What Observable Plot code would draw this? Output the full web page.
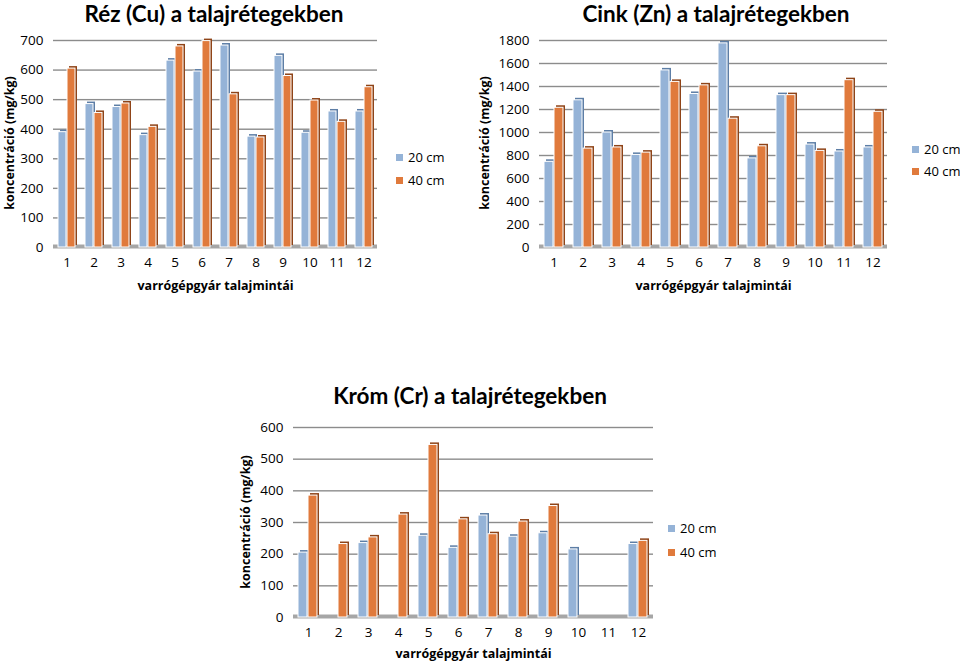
<!DOCTYPE html>
<html>
<head>
<meta charset="utf-8">
<script src="https://cdn.jsdelivr.net/npm/d3@7"></script>
<script src="https://cdn.jsdelivr.net/npm/@observablehq/plot@0.6"></script>
<style>
  html, body { margin: 0; padding: 0; background: #fff; }
  #root { position: relative; width: 960px; height: 662px; overflow: hidden; font-family: "Open Sans", sans-serif; }
  .title { position: absolute; font-family: "Lato", sans-serif; font-weight: bold; font-size: 22.5px; line-height: 23px; text-align: center; white-space: nowrap; transform: translateX(-50%); color: #000; }
  .ylab { position: absolute; font-family: "Open Sans", sans-serif; font-weight: bold; font-size: 12.5px; white-space: nowrap; transform: translate(-50%, -50%) rotate(-90deg); color: #000; }
  .chart { position: absolute; }
  .legend { position: absolute; font-size: 13px; color: #000; }
  .legend div { white-space: nowrap; }
  .legend span.sw { display: inline-block; width: 7px; height: 7px; margin-right: 5px; vertical-align: 1px; }
  svg [aria-label$="axis label"] text, svg [aria-label$="axis label"] { font-weight: bold; font-size: 12.5px; }
</style>
</head>
<body>
<div id="root"></div>
<script>
const samples = ["1","2","3","4","5","6","7","8","9","10","11","12"];
const depths = ["20 cm", "40 cm"];

const cu20 = [390, 485, 475, 380, 632, 595, 683, 375, 648, 388, 460, 460];
const cu40 = [605, 455, 487, 408, 680, 698, 518, 372, 580, 497, 425, 542];
const cuTicks = [0, 100, 200, 300, 400, 500, 600, 700];

const zn20 = [745, 1280, 1000, 805, 1540, 1335, 1775, 775, 1325, 895, 835, 870];
const zn40 = [1215, 860, 870, 825, 1440, 1410, 1120, 880, 1325, 840, 1455, 1180];
const znTicks = [0, 200, 400, 600, 800, 1000, 1200, 1400, 1600, 1800];

const cr20 = [205, 0, 235, 0, 258, 220, 322, 255, 266, 215, 0, 232];
const cr40 = [385, 232, 253, 325, 545, 310, 263, 303, 352, 0, 0, 242];
const crTicks = [0, 100, 200, 300, 400, 500, 600];

const titles = ["Réz (Cu) a talajrétegekben", "Cink (Zn) a talajrétegekben", "Króm (Cr) a talajrétegekben"];
const yLabel = "koncentráció (mg/kg)";
const xLabel = "varrógépgyár talajmintái";

const blue = "#95b3d7", orange = "#e07a3c";
const blueDark = "#5d7ea6", orangeDark = "#8f4418";

function long(a, b) {
  const out = [];
  samples.forEach((s, i) => {
    out.push({sample: s, depth: depths[0], value: a[i]});
    out.push({sample: s, depth: depths[1], value: b[i]});
  });
  return out;
}

function chart(data, ticks, o) {
  const d20 = data.filter(d => d.depth === depths[0]);
  const d40 = data.filter(d => d.depth === depths[1]);
  return Plot.plot({
    width: o.width, height: o.height,
    marginLeft: o.ml, marginRight: o.mr, marginTop: o.mt, marginBottom: o.mb,
    style: {fontFamily: "'Open Sans', sans-serif", fontSize: "13.5px", color: "#000", background: "transparent", overflow: "visible"},
    fx: {domain: samples, padding: 0, label: xLabel, tickSize: 0, tickPadding: 10, labelAnchor: "center", labelOffset: o.xlo},
    x: {domain: depths, paddingInner: 0.06, paddingOuter: 0.45, axis: null},
    y: {domain: [0, ticks[ticks.length - 1]], ticks: ticks, tickFormat: d => String(d), tickSize: 0, tickPadding: 10, label: null},
    color: {domain: depths, range: [blue, orange]},
    marks: [
      Plot.ruleY(ticks.filter(t => t > 0), {stroke: "#8c8c8c", strokeWidth: 1.4}),
      Plot.ruleY([0], {stroke: "#a6a6a6", strokeWidth: 4, dy: -1}),
      Plot.barY(d20, {fx: "sample", x: "depth", y: "value", fill: blueDark, dx: 2, dy: -2}),
      Plot.barY(d40, {fx: "sample", x: "depth", y: "value", fill: orangeDark, dx: 2, dy: -2}),
      Plot.barY(data, {fx: "sample", x: "depth", y: "value", fill: "depth", stroke: "#fff", strokeWidth: 1})
    ]
  });
}

const root = document.getElementById("root");

function place(el, left, top) {
  el.classList.add("chart");
  el.style.left = left + "px";
  el.style.top = top + "px";
  root.appendChild(el);
}

function title(text, cx, top) {
  const t = document.createElement("div");
  t.className = "title";
  t.textContent = text;
  t.style.left = cx + "px";
  t.style.top = top + "px";
  root.appendChild(t);
}

function ylab(cx, cy) {
  const t = document.createElement("div");
  t.className = "ylab";
  t.textContent = yLabel;
  t.style.left = cx + "px";
  t.style.top = cy + "px";
  root.appendChild(t);
}

function legend(left, top, gap) {
  const l = document.createElement("div");
  l.className = "legend";
  l.style.left = left + "px";
  l.style.top = top + "px";
  [[depths[0], blue], [depths[1], orange]].forEach(([lab, c]) => {
    const row = document.createElement("div");
    row.style.height = gap + "px";
    row.style.lineHeight = gap + "px";
    const sw = document.createElement("span");
    sw.className = "sw";
    sw.style.background = c;
    row.appendChild(sw);
    row.appendChild(document.createTextNode(lab));
    l.appendChild(row);
  });
  root.appendChild(l);
}

place(chart(long(cu20, cu40), cuTicks, {width: 385, height: 270, ml: 51, mr: 7, mt: 10, mb: 53, xlo: 42}), 0, 30);
place(chart(long(zn20, zn40), znTicks, {width: 425, height: 270, ml: 66, mr: 6, mt: 10, mb: 53, xlo: 42}), 470, 30);
place(chart(long(cr20, cr40), crTicks, {width: 445, height: 245, ml: 68, mr: 7, mt: 10, mb: 45, xlo: 40}), 220, 417);

ylab(9, 143);
ylab(484, 143);
ylab(245, 522);

title(titles[0], 214, 2);
title(titles[1], 716, 2);
title(titles[2], 470, 384);

legend(396, 146, 23);
legend(912, 138, 22);
legend(668, 516, 24);
</script>
</body>
</html>
